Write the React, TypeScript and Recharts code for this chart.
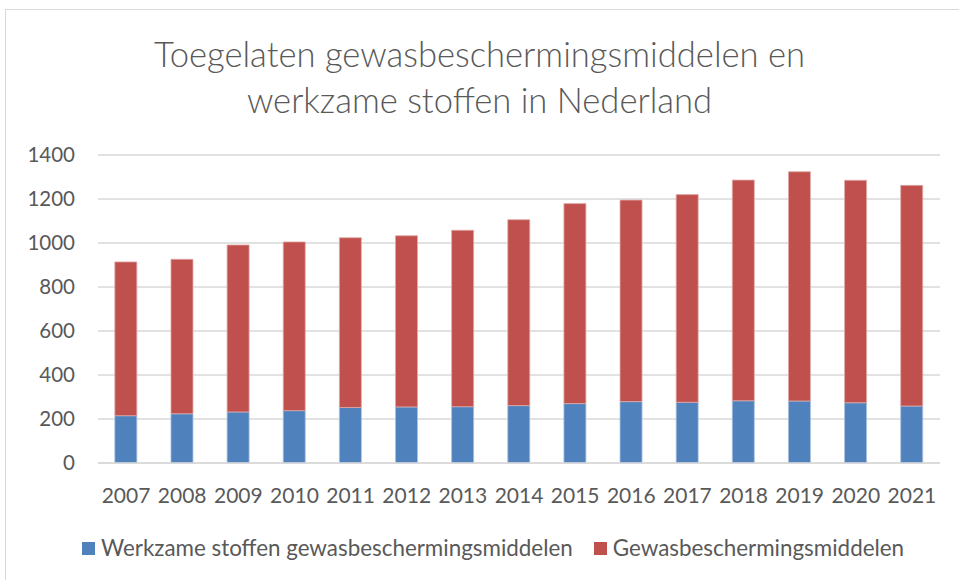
import { BarChart, Bar, XAxis, YAxis, CartesianGrid } from 'recharts'

const years = ['2007', '2008', '2009', '2010', '2011', '2012', '2013', '2014', '2015', '2016', '2017', '2018', '2019', '2020', '2021']
const werkzameStoffen = [215, 224, 232, 238, 252, 255, 256, 261, 270, 279, 276, 283, 282, 274, 259]
const middelen = [699, 702, 759, 767, 772, 778, 802, 845, 909, 916, 944, 1003, 1042, 1011, 1003]
const yTicks = [0, 200, 400, 600, 800, 1000, 1200, 1400]

const series = [
  { key: 'werkzaam', name: 'Werkzame stoffen gewasbeschermingsmiddelen', color: '#4F81BD', edge: '#a9c0de' },
  { key: 'middelen', name: 'Gewasbeschermingsmiddelen', color: '#C0504D', edge: '#e0a9a7' },
]

const data = years.map((year, i) => ({ year, werkzaam: werkzameStoffen[i], middelen: middelen[i] }))

const FONT = 'Lato, "Open Sans", sans-serif'
const TEXT = '#595959'

export default function App() {
  return (
    <div style={{ position: 'fixed', left: 0, top: 0, width: 959, height: 580, background: '#fff', overflow: 'hidden', fontFamily: FONT }}>
      <div style={{ position: 'absolute', left: 5, top: 9, width: 1000, height: 600, border: '1.5px solid #d9d9d9' }} />
      <div style={{ position: 'absolute', left: 0, top: 31, width: 959, textAlign: 'center', color: TEXT, fontSize: 34.6, fontWeight: 300, lineHeight: '46px' }}>
        Toegelaten gewasbeschermingsmiddelen en<br />werkzame stoffen in Nederland
      </div>
      <div style={{ position: 'absolute', left: 0, top: 0 }}>
        <BarChart width={959} height={580} data={data} margin={{ top: 155, right: 19, bottom: 87, left: 0 }} barCategoryGap="30%">
          <CartesianGrid vertical={false} stroke="#d9d9d9" strokeWidth={1.5} />
          <XAxis dataKey="year" height={30} axisLine={{ stroke: '#d9d9d9', strokeWidth: 1.5 }} tickLine={false} tickSize={0} tickMargin={25}
            tick={{ fill: TEXT, fontSize: 21, fontFamily: FONT }} interval={0} />
          <YAxis width={98} domain={[0, 1400]} ticks={yTicks} axisLine={false} tickLine={false} tickSize={0} tickMargin={23}
            tick={{ fill: TEXT, fontSize: 20.5, fontFamily: FONT }} />
          {series.map((s) => (
            <Bar key={s.key} dataKey={s.key} name={s.name} stackId="a" fill={s.color} stroke={s.edge} strokeWidth={0.8} isAnimationActive={false} />
          ))}
        </BarChart>
      </div>
      <div style={{ position: 'absolute', left: 82, top: 534, display: 'flex', alignItems: 'center', fontSize: 22.4, color: TEXT, lineHeight: '28px' }}>
        {series.map((s, i) => (
          <div key={s.key} style={{ display: 'flex', alignItems: 'center', marginRight: i === 0 ? 21 : 0 }}>
            <span style={{ display: 'inline-block', width: 13, height: 13, background: s.color, marginRight: 6 }} />
            <span>{s.name}</span>
          </div>
        ))}
      </div>
    </div>
  )
}
